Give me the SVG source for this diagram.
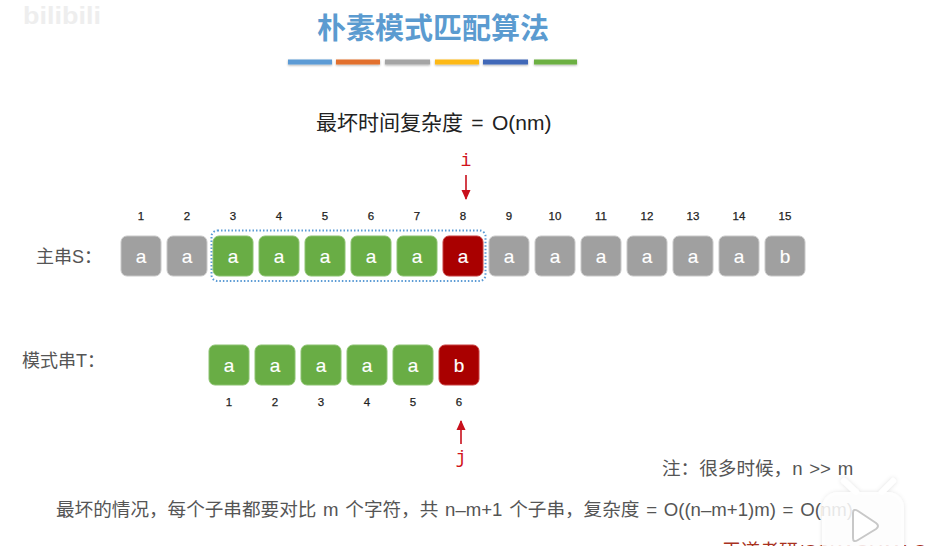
<svg xmlns="http://www.w3.org/2000/svg" width="925" height="546" viewBox="0 0 925 546">
<style>
text{font-family:"Liberation Sans","Noto Sans CJK SC",sans-serif}
.box{stroke-width:1}
.g{fill:#a0a0a0;stroke:#c8c8c8}
.v{fill:#69ad45;stroke:#8cc270}
.r{fill:#a90000;stroke:#c84040}
.c{font-size:19px;fill:#fff;stroke:#fff;stroke-width:.15;text-anchor:middle}
.n{font-size:11.5px;fill:#222;text-anchor:middle;stroke:#222;stroke-width:.25}
.lbl{font-size:18px;fill:#555}
.body{font-size:18.6px;fill:#555;word-spacing:1.6px}
.bar{height:5px}
.ptr{font-family:"Liberation Mono",monospace;font-size:18px;fill:#d0121b;text-anchor:middle}
</style>
<defs>
<marker id="ah" markerWidth="10" markerHeight="10" refX="9" refY="5" orient="auto" markerUnits="userSpaceOnUse"><path d="M0 .5L10 5L0 9.500Z" fill="#c8101c"/></marker>
<filter id="sh" x="-5%" y="-50%" width="110%" height="220%"><feDropShadow dx="0" dy="1" stdDeviation="0.8" flood-color="#000" flood-opacity=".3"/></filter>
<filter id="bs" x="-20%" y="-20%" width="140%" height="140%"><feDropShadow dx="0" dy="0" stdDeviation="2" flood-color="#000" flood-opacity=".12"/></filter>
</defs>
<rect width="925" height="546" fill="#fff"/>
<text x="23" y="24" font-size="24" font-weight="bold" fill="#eeeeee" textLength="78" lengthAdjust="spacingAndGlyphs">bilibili</text>

<g id="title">
<text x="433" y="39" font-size="29" font-weight="bold" fill="#5b9bd0" text-anchor="middle">朴素模式匹配算法</text>
<g filter="url(#sh)">
<rect class="bar" x="288" y="59.500" width="44" fill="#5b9bd5"/>
<rect class="bar" x="336" y="59.500" width="44" fill="#e2702f"/>
<rect class="bar" x="385" y="59.500" width="45" fill="#a5a5a5"/>
<rect class="bar" x="435" y="59.500" width="44" fill="#fdb913"/>
<rect class="bar" x="483" y="59.500" width="45" fill="#4168b8"/>
<rect class="bar" x="534" y="59.500" width="43" fill="#6cb043"/>
</g>
</g>
<text id="complexity" x="316" y="130" font-size="21" fill="#222" word-spacing="2.500">最坏时间复杂度 = O(nm)</text>

<g id="connectors" stroke="#c8101c" stroke-width="1.600" fill="none">
<line x1="466" y1="175" x2="466" y2="199" marker-end="url(#ah)"/>
<line x1="461" y1="444" x2="461" y2="421" marker-end="url(#ah)"/>
<rect x="211.500" y="230.500" width="274" height="50.500" rx="6" stroke="#5b9bd5" stroke-width="2" stroke-dasharray="1.500 2"/>
</g>
<text id="ptr-i" class="ptr" x="466" y="166">i</text>
<text id="ptr-j" class="ptr" x="461" y="463">j</text>

<text id="label-s" class="lbl" x="36" y="263">主串S&#xFF1A;</text>
<text id="label-t" class="lbl" x="22" y="367">模式串T&#xFF1A;</text>

<g id="S1"><rect class="box g" x="121" y="236" width="40" height="40" rx="6"/><text class="c" x="141" y="263">a</text><text class="n" x="141" y="220">1</text></g>
<g id="S2"><rect class="box g" x="167" y="236" width="40" height="40" rx="6"/><text class="c" x="187" y="263">a</text><text class="n" x="187" y="220">2</text></g>
<g id="S3"><rect class="box v" x="213" y="236" width="40" height="40" rx="6"/><text class="c" x="233" y="263">a</text><text class="n" x="233" y="220">3</text></g>
<g id="S4"><rect class="box v" x="259" y="236" width="40" height="40" rx="6"/><text class="c" x="279" y="263">a</text><text class="n" x="279" y="220">4</text></g>
<g id="S5"><rect class="box v" x="305" y="236" width="40" height="40" rx="6"/><text class="c" x="325" y="263">a</text><text class="n" x="325" y="220">5</text></g>
<g id="S6"><rect class="box v" x="351" y="236" width="40" height="40" rx="6"/><text class="c" x="371" y="263">a</text><text class="n" x="371" y="220">6</text></g>
<g id="S7"><rect class="box v" x="397" y="236" width="40" height="40" rx="6"/><text class="c" x="417" y="263">a</text><text class="n" x="417" y="220">7</text></g>
<g id="S8"><rect class="box r" x="443" y="236" width="40" height="40" rx="6"/><text class="c" x="463" y="263">a</text><text class="n" x="463" y="220">8</text></g>
<g id="S9"><rect class="box g" x="489" y="236" width="40" height="40" rx="6"/><text class="c" x="509" y="263">a</text><text class="n" x="509" y="220">9</text></g>
<g id="S10"><rect class="box g" x="535" y="236" width="40" height="40" rx="6"/><text class="c" x="555" y="263">a</text><text class="n" x="555" y="220">10</text></g>
<g id="S11"><rect class="box g" x="581" y="236" width="40" height="40" rx="6"/><text class="c" x="601" y="263">a</text><text class="n" x="601" y="220">11</text></g>
<g id="S12"><rect class="box g" x="627" y="236" width="40" height="40" rx="6"/><text class="c" x="647" y="263">a</text><text class="n" x="647" y="220">12</text></g>
<g id="S13"><rect class="box g" x="673" y="236" width="40" height="40" rx="6"/><text class="c" x="693" y="263">a</text><text class="n" x="693" y="220">13</text></g>
<g id="S14"><rect class="box g" x="719" y="236" width="40" height="40" rx="6"/><text class="c" x="739" y="263">a</text><text class="n" x="739" y="220">14</text></g>
<g id="S15"><rect class="box g" x="765" y="236" width="40" height="40" rx="6"/><text class="c" x="785" y="263">b</text><text class="n" x="785" y="220">15</text></g>

<g id="T1"><rect class="box v" x="209" y="345" width="40" height="40" rx="6"/><text class="c" x="229" y="372">a</text><text class="n" x="229" y="406">1</text></g>
<g id="T2"><rect class="box v" x="255" y="345" width="40" height="40" rx="6"/><text class="c" x="275" y="372">a</text><text class="n" x="275" y="406">2</text></g>
<g id="T3"><rect class="box v" x="301" y="345" width="40" height="40" rx="6"/><text class="c" x="321" y="372">a</text><text class="n" x="321" y="406">3</text></g>
<g id="T4"><rect class="box v" x="347" y="345" width="40" height="40" rx="6"/><text class="c" x="367" y="372">a</text><text class="n" x="367" y="406">4</text></g>
<g id="T5"><rect class="box v" x="393" y="345" width="40" height="40" rx="6"/><text class="c" x="413" y="372">a</text><text class="n" x="413" y="406">5</text></g>
<g id="T6"><rect class="box r" x="439" y="345" width="40" height="40" rx="6"/><text class="c" x="459" y="372">b</text><text class="n" x="459" y="406">6</text></g>

<text id="note" class="body" x="662" y="475">注&#xFF1A;很多时候&#xFF0C;n &gt;&gt; m</text>
<text id="summary" class="body" x="56" y="516">最坏的情况&#xFF0C;每个子串都要对比 m 个字符&#xFF0C;共 n–m+1 个子串&#xFF0C;复杂度 = O((n–m+1)m) = O(nm)</text>
<text id="credit" x="722" y="558" font-size="19" fill="#a8321e">王道考研/CSKAOYAN.COM</text>

<g id="play-badge" filter="url(#bs)">
<path d="M844 481L856 492M882 492L893 481" stroke="#fff" stroke-width="6" stroke-linecap="round"/>
<rect x="822" y="492" width="82" height="70" rx="16" fill="#fff" fill-opacity=".85"/>
<path d="M853 513Q853 508 858 511L876 523Q880 526 876 529L858 540Q853 543 853 538Z" fill="#fff" stroke="#c8c8c8" stroke-width="2"/>
</g>
</svg>
